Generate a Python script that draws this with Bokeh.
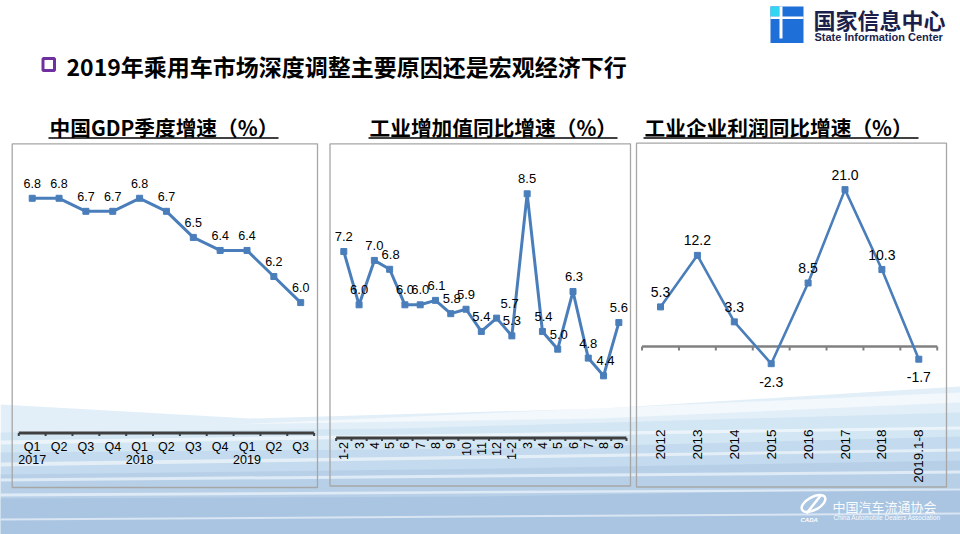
import numpy as np
from bokeh.plotting import figure
from bokeh.models import Range1d
from bokeh.core.properties import value
from bokeh.embed import file_html
from bokeh.resources import INLINE

W, H = 960, 534

# ---------------- data ----------------
gdp_cats = ["Q1", "Q2", "Q3", "Q4", "Q1", "Q2", "Q3", "Q4", "Q1", "Q2", "Q3"]
gdp_years = ["2017", "", "", "", "2018", "", "", "", "2019", "", ""]
gdp_vals = [6.8, 6.8, 6.7, 6.7, 6.8, 6.7, 6.5, 6.4, 6.4, 6.2, 6.0]

iva_cats = ["1-2", "3", "4", "5", "6", "7", "8", "9", "10", "11", "12",
            "1-2", "3", "4", "5", "6", "7", "8", "9"]
iva_vals = [7.2, 6.0, 7.0, 6.8, 6.0, 6.0, 6.1, 5.8, 5.9, 5.4, 5.7,
            5.3, 8.5, 5.4, 5.0, 6.3, 4.8, 4.4, 5.6]
iva_label_dx = [0, 0, 0, 1, 0, 0, 1, 1, 0, 0, 13, 0, 0, 1, 1, 1, 0, 2, 0]

profit_cats = ["2012", "2013", "2014", "2015", "2016", "2017", "2018", "2019.1-8"]
profit_vals = [5.3, 12.2, 3.3, -2.3, 8.5, 21.0, 10.3, -1.7]

main_title = "2019年乘用车市场深度调整主要原因还是宏观经济下行"
panel_titles = ["中国GDP季度增速（%）", "工业增加值同比增速（%）", "工业企业利润同比增速（%）"]

# ---------------- styles ----------------
LINE_C = "#4A7EBB"
FONT = value("Liberation Sans")
CJK = value("Noto Sans CJK SC")

p = figure(width=W, height=H, x_range=Range1d(0, W), y_range=Range1d(H, 0),
           output_backend="svg", toolbar_location=None, min_border=0,
           x_axis_location=None, y_axis_location=None)
p.grid.visible = False
p.outline_line_color = None
p.background_fill_color = "white"
p.border_fill_color = "white"


def txt(x, y, text, size, font=FONT, color="black", style="normal", align="left",
        baseline="middle", angle=0, x_offset=0, y_offset=0, rn=None, alpha=1.0):
    kw = {}
    if rn:
        kw = dict(x_range_name=rn, y_range_name=rn)
    p.text(x=x, y=y, text=text, text_font=font, text_font_size=value(size),
           text_color=color, text_font_style=style, text_align=align,
           text_baseline=baseline, angle=angle, x_offset=x_offset,
           y_offset=y_offset, text_alpha=alpha, **kw)


# ---------------- background waves ----------------
waves = [
    ([0, 250, 600, 960, 960, 0], [404, 418, 408, 386, 534, 534], "#e2eff8"),
    ([0, 400, 960, 960, 0], [432, 428, 412, 534, 534], "#d3e6f3"),
    ([0, 500, 960, 960, 0], [452, 448, 436, 534, 534], "#c4daee"),
    ([0, 500, 960, 960, 0], [474, 468, 460, 534, 534], "#b7d0e8"),
    ([0, 480, 960, 960, 0], [498, 496, 488, 534, 534], "#aac5e2"),
]
for xs, ys, c in waves:
    p.patch(xs, ys, fill_color=c, line_color=None)

streaks = [
    ([230, 960, 960, 600], [424, 392, 402, 418]),
    ([0, 960, 960, 0], [440, 426, 429, 444]),
    ([0, 700, 960, 960, 0], [462, 452, 448, 451, 466]),
    ([0, 960, 960, 0], [478, 470, 473, 481]),
    ([0, 960, 960, 0], [493, 488, 490, 496]),
    ([0, 960, 960, 0], [518, 512, 514, 520]),
]
for xs, ys in streaks:
    p.patch(xs, ys, fill_color="white", fill_alpha=0.55, line_color=None)

# ---------------- header ----------------
# purple bullet
p.quad(left=42.5, right=54, top=58, bottom=70, fill_color="white",
       line_color="#7030A0", line_width=3)
txt([66], [65], [main_title], "23px", font=CJK, style="bold")

# logo
p.quad(left=770, right=803, top=6, bottom=42.5, fill_color="#1f6fd8", line_color=None)
p.quad(left=770, right=779, top=6, bottom=16, fill_color="#33d6f2", line_color=None)
p.quad(left=770, right=803, top=16, bottom=18.5, fill_color="white", line_color=None)
p.quad(left=779, right=782, top=6, bottom=38, fill_color="white", line_color=None)
txt([813], [18], ["国家信息中心"], "22px", font=CJK, style="bold", color="#1b1f4b")
txt([814], [36.5], ["State Information Center"], "11px", style="bold", color="#1b1f4b")

# panel titles + underlines
title_x = [49, 369, 644]
ul = [(48, 278), (368, 617), (643, 918)]
txt(title_x, [126, 126, 126], panel_titles, "20.7px", font=CJK, style="bold")
p.segment(x0=[a for a, b in ul], x1=[b for a, b in ul], y0=[137.5] * 3, y1=[137.5] * 3,
          line_color="black", line_width=1.5)

# panel boxes
boxes = [(11.7, 317, 143.3, 487), (329.5, 630, 143.3, 485.5), (636, 946, 142.7, 486.5)]
for l, r, t, b in boxes:
    p.quad(left=l, right=r, top=t, bottom=b, fill_color=None,
           line_color="#a6a6a6", line_width=1.3)


# ---------------- chart placement through ranges ----------------
def place(name, x0, dx, v_ref, y_ref, ppu):
    xs = -x0 / dx
    p.extra_x_ranges[name] = Range1d(xs, xs + W / dx)
    top = v_ref + y_ref / ppu
    p.extra_y_ranges[name] = Range1d(top - H / ppu, top)


def series(name, vals, width=3):
    idx = list(range(len(vals)))
    p.line(idx, vals, line_color=LINE_C, line_width=width,
           x_range_name=name, y_range_name=name, line_join="round")
    p.scatter(idx, vals, marker="square", size=6, fill_color=LINE_C,
              line_color=LINE_C, x_range_name=name, y_range_name=name)


def axis(name, n, base, ppu, color, width, tick_px):
    p.segment(x0=[-0.5], x1=[n - 0.5], y0=[base], y1=[base], line_color=color,
              line_width=width, x_range_name=name, y_range_name=name)
    b = [i - 0.5 for i in range(n + 1)]
    p.segment(x0=b, x1=b, y0=[base] * len(b), y1=[base - tick_px / ppu] * len(b),
              line_color=color, line_width=2, x_range_name=name, y_range_name=name)


# Chart 1: GDP
place("gdp", 31.7, 26.85, 5.0, 432.5, 130.4)
n1 = len(gdp_vals)
axis("gdp", n1, 5.0, 130.4, "#3f3f3f", 3, 3)
series("gdp", gdp_vals)
idx1 = list(range(n1))
txt(idx1, gdp_vals, [f"{v:.1f}" for v in gdp_vals], "12.5px", align="center",
    y_offset=-15, rn="gdp")
txt(idx1, [5.0] * n1, gdp_cats, "12.5px", align="center", baseline="middle",
    y_offset=14, rn="gdp")
txt(idx1, [5.0] * n1, gdp_years, "12.5px", align="center", baseline="middle",
    y_offset=26.5, rn="gdp")

# Chart 2: industrial value added
place("iva", 343.3, 15.28, 3.0, 437.5, 44.4)
n2 = len(iva_vals)
axis("iva", n2, 3.0, 44.4, "#3f3f3f", 3, 3)
series("iva", iva_vals)
idx2 = list(range(n2))
txt(idx2, iva_vals, [f"{v:.1f}" for v in iva_vals], "13px", align="center",
    x_offset=iva_label_dx, y_offset=-15, rn="iva")
txt(idx2, [3.0] * n2, iva_cats, "12.5px", align="right", baseline="middle",
    angle=np.pi / 2, y_offset=4, rn="iva")

# Chart 3: industrial profits
place("pr", 660, 36.9, 0.0, 346, 7.47)
n3 = len(profit_vals)
axis("pr", n3, 0.0, 7.47, "#808080", 2.6, 4)
series("pr", profit_vals, width=2.6)
idx3 = list(range(n3))
pr_off = [-15 if v >= 0 else 18 for v in profit_vals]
txt(idx3, profit_vals, [f"{v:.1f}" for v in profit_vals], "14px", align="center",
    y_offset=pr_off, rn="pr")
txt(idx3, [0.0] * n3, profit_cats, "13.5px", align="right", baseline="middle",
    angle=np.pi / 2, y_offset=83, rn="pr")

# ---------------- footer logo ----------------
p.ellipse(x=[813], y=[503], width=26, height=13, angle=0.5, fill_color=None,
          line_color="white", line_width=2.5)
p.segment(x0=[806], x1=[821], y0=[513], y1=[494], line_color="white", line_width=2.5)
txt([800], [519], ["CADA"], "6px", color="white", style="bold italic")
txt([832], [506], ["中国汽车流通协会"], "13px", font=CJK, color="white", alpha=0.95)
txt([833], [517], ["China Automobile Dealers Association"], "6.3px", color="white", alpha=0.95)

open("out.html", "w").write(file_html(p, INLINE))
